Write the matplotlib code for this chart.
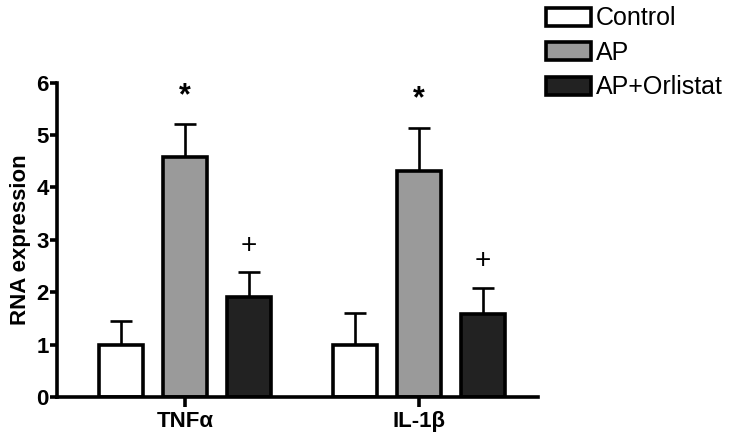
import numpy as np
import matplotlib
matplotlib.use("Agg")
import matplotlib.pyplot as plt

plt.rcParams['font.family'] = ['Liberation Sans', 'DejaVu Sans']

# data
genes = ["TNFα", "IL-1β"]
groups = ["Control", "AP", "AP+Orlistat"]
means = {
    "Control": [1.0, 1.0],
    "AP": [4.58, 4.31],
    "AP+Orlistat": [1.91, 1.59],
}
errors = {
    "Control": [0.45, 0.61],
    "AP": [0.63, 0.83],
    "AP+Orlistat": [0.47, 0.50],
}
marks = {
    "AP": ["*", "*"],
    "AP+Orlistat": ["+", "+"],
}
colors = {"Control": "white", "AP": "#9a9a9a", "AP+Orlistat": "#222222"}

fig = plt.figure(figsize=(7.34, 4.42), dpi=100)
ax = fig.add_axes([0.0777, 0.1018, 0.6553, 0.7111])

x = np.arange(len(genes))
spacing = 0.274
width = 0.19
for i, g in enumerate(groups):
    xs = x + (i - 1) * spacing
    ax.errorbar(xs, means[g], yerr=[np.zeros(len(genes)), errors[g]], fmt="none",
                ecolor="black", elinewidth=1.9, capsize=8, capthick=1.9, zorder=1)
    ax.bar(xs, means[g], width=width, color=colors[g], edgecolor="black",
           linewidth=2.6, label=g, zorder=2)
    if g in marks:
        for xi, m, e, s in zip(xs, means[g], errors[g], marks[g]):
            # star looks bolder than the plus in the original
            if s == "*":
                ax.text(xi, m + e + 0.25, s, ha="center", va="bottom",
                        fontsize=22, fontweight="bold")
            else:
                ax.text(xi, m + e + 0.25, s, ha="center", va="bottom", fontsize=20)

ax.set_xlim(-0.547, 1.509)
ax.set_ylim(0, 6)
ax.set_xticks(x)
ax.set_xticklabels(genes, fontsize=16, fontweight="bold")
ax.set_yticks(range(0, 7))
ax.set_yticklabels([str(v) for v in range(0, 7)], fontsize=16, fontweight="bold")
ax.set_ylabel("RNA expression", fontsize=16, fontweight="bold", labelpad=4)
for side in ["top", "right"]:
    ax.spines[side].set_visible(False)
for side in ["left", "bottom"]:
    ax.spines[side].set_linewidth(2.6)
ax.tick_params(axis="y", width=2.6, length=5, pad=1)
ax.tick_params(axis="x", width=2.6, length=7, pad=3)

fig.legend(loc="upper left", bbox_to_anchor=(0.73, 1.008), frameon=False,
           fontsize=18, handlelength=1.8, handleheight=0.75, handletextpad=0.2,
           labelspacing=0.42, borderaxespad=0)

fig.savefig("out.png", dpi=100)
